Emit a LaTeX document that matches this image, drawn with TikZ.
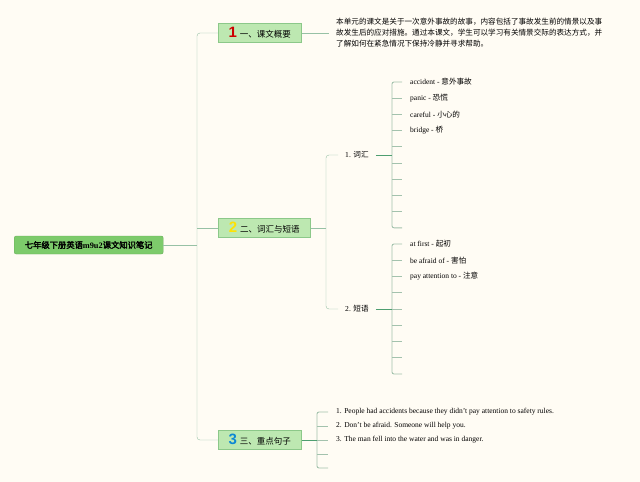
\documentclass[tikz,border=0pt]{standalone}
\usepackage{fontspec}
\setmainfont{Liberation Serif}
\newfontfamily\cjk{Noto Sans CJK SC}[AutoFakeBold=2.5]
\newfontfamily\numfont{Liberation Sans}
\usetikzlibrary{positioning}
\definecolor{paper}{HTML}{FFFCF4}
\definecolor{rootgreen}{HTML}{7DCB6B}
\definecolor{boxgreen}{HTML}{BDE8B1}
\definecolor{boxedge}{HTML}{8CC889}
\definecolor{trunkline}{HTML}{97C1A5}
\definecolor{tickline}{HTML}{A3C2AD}
\definecolor{darkline}{HTML}{4E9E70}
\newcommand\zh[1]{{\cjk\fontsize{7.6}{9}\selectfont #1}}
\newcommand\topicnum[2]{{\numfont\bfseries\fontsize{15}{15}\selectfont\color{#1}#2}\hspace{3pt}}
\tikzset{
  x=1pt, y=-1pt, line width=1.1pt,
  root/.style={fill=rootgreen, draw=rootgreen!85!black, line width=0.4pt, rounded corners=2pt,
    anchor=west, minimum width=149pt, minimum height=18pt, inner sep=0pt,
    font=\cjk\bfseries\fontsize{8.3}{9}\selectfont},
  topic/.style={draw=boxedge, fill=boxgreen, line width=0.6pt, anchor=west, minimum height=19pt,
    inner xsep=9pt, inner ysep=0pt, font=\cjk\fontsize{8.5}{10}\selectfont},
  sub/.style={anchor=west, inner xsep=7pt, inner ysep=1pt, font=\fontsize{7.6}{9}\selectfont},
  leaf/.style={anchor=west, inner xsep=8pt, inner ysep=1pt, font=\fontsize{7.5}{9}\selectfont},
  link/.style={draw=trunkline, rounded corners=3pt},
  tick/.style={draw=tickline, line width=0.9pt, rounded corners=2pt},
  stem/.style={draw=darkline}
}

\begin{document}
\begin{tikzpicture}
  \fill[paper] (0,0) rectangle (640,482);
  \useasboundingbox (0,0) rectangle (640,482);

  % root and main topics
  \node[root] (root) at (14,245) {七年级下册英语{\rmfamily m9u2}课文知识笔记};
  \node[topic, minimum width=83pt] (t1) at (218,33) {\topicnum{red!80!black}{1}一、课文概要};
  \node[topic, minimum width=92pt] (t2) at (218,228) {\topicnum{yellow!85!orange}{2}二、词汇与短语};
  \node[topic, minimum width=83pt] (t3) at (218,440) {\topicnum{cyan!70!blue}{3}三、重点句子};
  \coordinate (trunk) at (197,245);

  \draw[link] (root.east) -- (trunk);
  \draw[link] (t1.west) -- (t1.west -| trunk) -- (t3.west -| trunk) -- (t3.west);
  \draw[link] (t2.west) -- (t2.west -| trunk);

  % summary
  \node[anchor=west, inner xsep=7pt, align=left, font=\cjk\fontsize{7.6}{11}\selectfont] (sum) at (329,33)
    {本单元的课文是关于一次意外事故的故事，内容包括了事故发生前的情景以及事\\
     故发生后的应对措施。通过本课文，学生可以学习有关情景交际的表达方式，并\\
     了解如何在紧急情况下保持冷静并寻求帮助。};
  \draw[link] (t1.east) -- (sum.west);

  % vocabulary and phrases
  \node[sub] (v1) at (338,155) {1. \zh{词汇}};
  \node[sub] (v2) at (338,309) {2. \zh{短语}};
  \coordinate (fork) at (326,228);
  \draw[link] (t2.east) -- (fork);
  \draw[link] (v1.west) -- (v1.west -| fork) -- (v2.west -| fork) -- (v2.west);

  \coordinate (k1) at (392,155);
  \foreach \txt [count=\i] in {accident - \zh{意外事故}, panic - \zh{恐慌}, careful - \zh{小心的},
      bridge - \zh{桥}, {}, {}, {}, {}, {}, {}}
    \node[leaf] (w\i) at (402,{82+16.2*(\i-1)}) {\txt};
  \foreach \i in {2,...,9}
    \draw[tick] (w\i.west -| k1) -- (w\i.west);
  \draw[tick] (w1.west) -- (w1.west -| k1) -- (w10.west -| k1) -- (w10.west);
  \draw[stem] (v1.east) -- (k1);

  \coordinate (k2) at (392,309);
  \foreach \txt [count=\i] in {at first - \zh{起初}, be afraid of - \zh{害怕}, pay attention to - \zh{注意},
      {}, {}, {}, {}, {}, {}}
    \node[leaf] (p\i) at (402,{244+16.25*(\i-1)}) {\txt};
  \foreach \i in {2,...,8}
    \draw[tick] (p\i.west -| k2) -- (p\i.west);
  \draw[tick] (p1.west) -- (p1.west -| k2) -- (p9.west -| k2) -- (p9.west);
  \draw[stem] (v2.east) -- (k2);

  % key sentences
  \coordinate (k3) at (317,440);
  \foreach \txt [count=\i] in {1. People had accidents because they didn't pay attention to safety rules.,
      2. Don't be afraid. Someone will help you., 3. The man fell into the water and was in danger., {}, {}}
    \node[leaf] (s\i) at (328,{412+14*(\i-1)}) {\txt};
  \foreach \i in {2,...,4}
    \draw[tick] (s\i.west -| k3) -- (s\i.west);
  \draw[tick] (s1.west) -- (s1.west -| k3) -- (s5.west -| k3) -- (s5.west);
  \draw[stem] (t3.east) -- (k3);
\end{tikzpicture}
\end{document}
